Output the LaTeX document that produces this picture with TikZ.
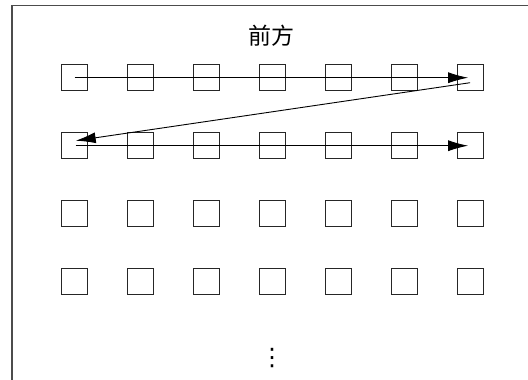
\documentclass[tikz,border=0pt]{standalone}
\usepackage{fontspec}
\newfontfamily\cjk{Noto Sans CJK SC}
\newfontfamily\dvs{DejaVu Sans}
\usetikzlibrary{arrows.meta}
\begin{document}
\begin{tikzpicture}[x=1pt,y=-1pt,
  seat/.style={draw=black!85,line width=1pt,minimum size=26pt,inner sep=0pt},
  flow/.style={draw=black,line width=0.9pt,-{Latex[length=20pt,width=11pt]}},
  frameline/.style={draw=black!70,line width=1.2pt}]
\useasboundingbox (0,0) rectangle (528,380);
\coordinate (ftl) at (12,5.5);
\coordinate (ftr) at (528,5.5);
\coordinate (fbl) at (12,380);
\draw[frameline] (ftr) -- (ftl) -- (fbl);
\node[font=\cjk\fontsize{23pt}{26pt}\selectfont] (front) at (271,36) {前方};
\foreach \r/\yy in {1/77.7,2/145.7,3/213.5,4/281} {
  \foreach \c in {1,...,7} {
    \node[seat] (s\r\c) at ({74.7+65.9*(\c-1)},\yy) {};
  }
}
\node[font=\dvs\fontsize{24pt}{26pt}\selectfont,inner sep=0pt] (dots) at (272,358) {⋮};
\draw[flow] (s11.center) -- ([xshift=-2pt]s17.center);
\draw[flow] ([yshift=-5pt]s17.center) -- ([xshift=1pt,yshift=5pt]s21.center);
\draw[flow] ([xshift=1pt]s21.center) -- ([xshift=-2pt]s27.center);
\end{tikzpicture}
\end{document}
